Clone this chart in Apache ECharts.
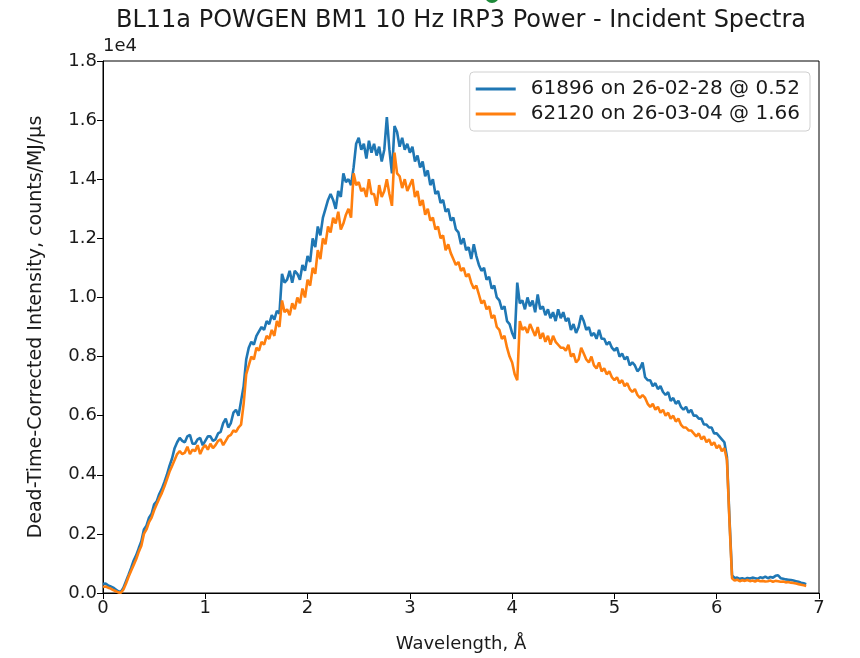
<!DOCTYPE html>
<html>
<head>
<meta charset="utf-8">
<script src="https://cdn.jsdelivr.net/npm/echarts@6/dist/echarts.min.js"></script>
<style>html,body{margin:0;padding:0;background:#fff}#c{width:860px;height:658px}</style>
</head>
<body>
<div id="c"></div>
<script>
// Wavelength sampling grid (Å): 0.000 .. 6.875 in steps of 0.025
const WL_STEP = 0.025;
// Intensity in units of 1e4 counts/MJ/µs
const run61896 = [
0.030,0.032,0.026,0.022,0.018,0.012,0.006,0.004,
0.018,0.040,0.062,0.085,0.110,0.128,0.152,0.175,0.215,0.228,0.255,0.268,0.300,0.310,0.335,0.352,0.375,0.400,0.430,0.455,
0.490,0.510,0.525,0.515,0.510,0.530,0.535,0.505,0.505,0.520,0.525,0.500,0.515,0.530,0.530,0.515,0.520,0.540,0.545,0.575,0.590,0.560,0.575,0.610,0.620,0.600,
0.650,0.700,0.790,0.830,0.850,0.840,
0.870,0.885,0.900,0.890,0.920,0.910,0.940,0.925,0.955,0.945,
1.080,1.050,1.060,1.090,1.050,1.090,1.080,1.060,1.110,1.090,
1.140,1.120,1.200,1.170,1.240,1.210,1.270,1.300,1.330,1.350,1.330,1.300,1.360,1.340,1.420,1.390,1.400,1.380,1.440,1.520,
1.540,1.500,1.520,1.470,1.530,1.490,1.520,1.480,1.510,1.460,1.500,1.610,1.500,1.420,1.580,1.560,1.510,1.540,1.500,1.520,
1.490,1.510,1.460,1.480,1.440,1.460,1.410,1.430,1.380,1.400,1.350,1.360,1.320,1.330,1.290,1.300,1.260,1.270,1.230,1.220,
1.180,1.200,1.160,1.170,1.130,1.180,1.140,1.110,1.090,1.100,1.060,1.070,1.030,1.040,1.000,0.990,0.960,0.970,0.920,0.910,
0.880,0.860,1.050,0.980,0.990,0.960,1.000,0.970,0.990,0.950,1.010,0.960,0.970,0.940,0.960,0.930,0.950,0.920,0.960,0.930,
0.950,0.920,0.930,0.890,0.910,0.880,0.900,0.940,0.920,0.890,0.900,0.870,0.880,0.860,0.890,0.860,0.860,0.840,0.850,0.830,
0.820,0.830,0.800,0.810,0.790,0.800,0.770,0.780,0.770,0.750,0.760,0.780,0.730,0.720,0.720,0.700,0.710,0.690,0.700,0.680,
0.670,0.680,0.650,0.660,0.640,0.650,0.630,0.620,0.630,0.610,0.620,0.600,0.600,0.590,0.590,0.570,0.570,0.560,0.560,0.540,
0.540,0.530,0.520,0.510,0.460,0.250,0.060,0.050,0.052,0.048,0.050,0.047,0.051,0.049,0.052,0.050,0.048,0.053,0.051,0.055,
0.050,0.054,0.052,0.058,0.060,0.050,0.048,0.046,0.045,0.044,0.042,0.040,0.038,0.035,0.033,0.030
];
const run62120 = [
0.020,0.022,0.018,0.015,0.010,0.006,0.002,0.001,
0.012,0.032,0.055,0.075,0.095,0.115,0.140,0.160,0.200,0.215,0.240,0.255,0.280,0.300,0.320,0.338,0.360,0.385,0.410,0.430,
0.450,0.470,0.480,0.470,0.475,0.495,0.470,0.485,0.480,0.500,0.470,0.490,0.500,0.485,0.505,0.490,0.500,0.515,0.520,0.500,0.515,0.530,0.535,0.550,0.545,0.560,
0.570,0.640,0.740,0.770,0.800,0.790,
0.830,0.820,0.850,0.840,0.870,0.860,0.890,0.870,0.920,0.900,
0.990,0.950,0.960,0.940,0.980,0.960,1.000,0.980,1.030,1.000,
1.060,1.040,1.100,1.080,1.160,1.130,1.200,1.180,1.240,1.220,1.270,1.250,1.290,1.230,1.250,1.280,1.300,1.270,1.420,1.380,
1.390,1.360,1.370,1.340,1.400,1.350,1.350,1.310,1.380,1.340,1.360,1.400,1.350,1.310,1.490,1.420,1.410,1.370,1.400,1.360,
1.380,1.400,1.340,1.360,1.310,1.330,1.280,1.300,1.260,1.270,1.230,1.240,1.200,1.210,1.160,1.180,1.150,1.130,1.110,1.120,
1.090,1.100,1.070,1.080,1.050,1.030,1.040,1.010,0.980,0.990,0.960,0.970,0.930,0.940,0.900,0.890,0.860,0.870,0.830,0.800,
0.780,0.740,0.720,0.920,0.890,0.900,0.880,0.910,0.890,0.870,0.900,0.860,0.880,0.850,0.870,0.840,0.870,0.850,0.840,0.830,
0.830,0.820,0.840,0.800,0.810,0.780,0.790,0.830,0.810,0.790,0.780,0.800,0.770,0.760,0.780,0.750,0.760,0.740,0.750,0.730,
0.720,0.730,0.710,0.720,0.700,0.710,0.690,0.680,0.690,0.670,0.660,0.670,0.660,0.640,0.630,0.640,0.620,0.630,0.610,0.620,
0.600,0.610,0.590,0.600,0.580,0.590,0.570,0.560,0.560,0.550,0.550,0.540,0.530,0.540,0.520,0.530,0.510,0.520,0.500,0.510,
0.490,0.500,0.480,0.490,0.450,0.240,0.050,0.042,0.045,0.040,0.043,0.041,0.044,0.040,0.042,0.039,0.043,0.040,0.041,0.039,
0.040,0.042,0.038,0.041,0.040,0.038,0.039,0.036,0.037,0.035,0.034,0.032,0.030,0.028,0.026,0.024
];
const seriesNames = ['61896 on 26-02-28 @ 0.52', '62120 on 26-03-04 @ 1.66'];
const yTicks = [0.0,0.2,0.4,0.6,0.8,1.0,1.2,1.4,1.6,1.8];
const xTicks = [0,1,2,3,4,5,6,7];

const toPairs = arr => arr.map((v, i) => [+(i * WL_STEP).toFixed(3), v]);

const FONT = 'DejaVu Sans';
const TXT = '#1a1a1a';
const chart = echarts.init(document.getElementById('c'), null, {renderer: 'canvas'});
chart.setOption({
  animation: false,
  backgroundColor: '#ffffff',
  textStyle: {fontFamily: FONT},
  title: {
    text: 'BL11a POWGEN BM1 10 Hz IRP3 Power - Incident Spectra',
    left: 456, top: 4, textAlign: 'center',
    textStyle: {fontFamily: FONT, fontSize: 24, fontWeight: 'normal', color: TXT}
  },
  graphic: [
    {type: 'text', left: 103, top: 37, style: {text: '1e4', font: '18px "DejaVu Sans"', fill: TXT}},
    {type: 'circle', shape: {cx: 492, cy: -4, r: 7}, style: {fill: '#1e8a3a'}}
  ],
  legend: {
    data: seriesNames,
    orient: 'vertical',
    right: 50, top: 72,
    itemWidth: 40, itemHeight: 3, itemGap: 5,
    icon: 'rect',
    padding: [7, 10, 7, 6],
    borderColor: '#d0d0d0', borderWidth: 1, borderRadius: 4,
    backgroundColor: 'rgba(255,255,255,0.8)',
    textStyle: {fontFamily: FONT, fontSize: 20, color: TXT, padding: [0, 0, 0, 10]}
  },
  grid: {left: 103, right: 41, top: 61, bottom: 64, show: true, borderColor: '#000', borderWidth: 1, backgroundColor: 'transparent'},
  xAxis: {
    type: 'value', min: 0, max: 7, interval: 1,
    name: 'Wavelength, Å', nameLocation: 'middle', nameGap: 42,
    nameTextStyle: {fontFamily: FONT, fontSize: 18, color: TXT},
    axisLine: {show: true, lineStyle: {color: '#000', width: 1}},
    axisTick: {show: true, inside: false, length: 6, lineStyle: {color: '#000'}},
    axisLabel: {fontFamily: FONT, fontSize: 18, color: TXT, margin: 6,
      formatter: v => xTicks.includes(v) ? String(v) : ''},
    splitLine: {show: false}
  },
  yAxis: {
    type: 'value', min: 0, max: 1.8, interval: 0.2,
    name: 'Dead-Time-Corrected Intensity, counts/MJ/µs', nameLocation: 'middle', nameGap: 57,
    nameTextStyle: {fontFamily: FONT, fontSize: 19, color: TXT},
    axisLine: {show: true, lineStyle: {color: '#000', width: 1}},
    axisTick: {show: true, inside: false, length: 6, lineStyle: {color: '#000'}},
    axisLabel: {fontFamily: FONT, fontSize: 18, color: TXT, margin: 6,
      formatter: v => {const t = yTicks.find(k => Math.abs(k - v) < 1e-6); return t === undefined ? '' : t.toFixed(1);}},
    splitLine: {show: false}
  },
  series: [
    {name: seriesNames[0], type: 'line', data: toPairs(run61896), showSymbol: false, symbol: 'none',
      lineStyle: {color: '#1f77b4', width: 2.6}, itemStyle: {color: '#1f77b4'}, z: 2},
    {name: seriesNames[1], type: 'line', data: toPairs(run62120), showSymbol: false, symbol: 'none',
      lineStyle: {color: '#ff7f0e', width: 2.6}, itemStyle: {color: '#ff7f0e'}, z: 3}
  ]
});
</script>
</body>
</html>
